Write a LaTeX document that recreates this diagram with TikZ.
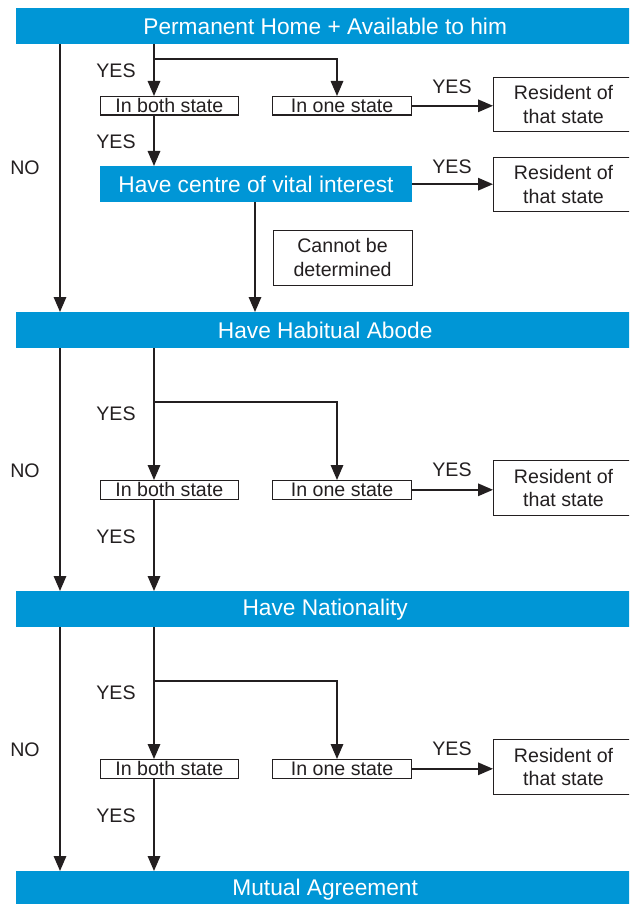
\documentclass[tikz,border=0pt]{standalone}
\usepackage{fontspec}
\setmainfont{Liberation Sans}
\usetikzlibrary{arrows.meta}
\definecolor{barblue}{HTML}{0096D6}
\definecolor{ink}{HTML}{231F20}
\begin{document}
\begin{tikzpicture}[x=1pt,y=-1pt,
  bar/.style={fill=barblue,text=white,minimum width=618pt,minimum height=36pt,inner sep=0pt,
    font=\fontsize{22.7}{26}\selectfont,anchor=north west},
  sbox/.style={draw=ink,line width=1.1pt,fill=white,text=ink,inner sep=0pt,
    font=\fontsize{19.6}{23.3}\selectfont,align=center,anchor=north west},
  cbar/.style={fill=barblue,text=white,inner sep=0pt,font=\fontsize{22.7}{26}\selectfont,anchor=north west},
  lbl/.style={text=ink,font=\fontsize{19.6}{23}\selectfont,inner sep=0pt},
  arr/.style={draw=ink,line width=1.6pt,-{Triangle[length=15pt,width=12.5pt]}},
  ln/.style={draw=ink,line width=1.6pt}]
\useasboundingbox (0,0) rectangle (629,904);
\clip (0,0) rectangle (629,904);

% bars
\node[bar] (top) at (16,8) {Permanent Home + Available to him};
\node[bar] (hab) at (16,312) {Have Habitual Abode};
\node[bar] (nat) at (16,591) {Have Nationality};
\node[bar] (mut) at (16,871) {Mutual Agreement};

% section 1
\node[sbox,minimum width=138.5pt,minimum height=18.5pt] (both1) at (99.5,96) {In both state};
\node[sbox,minimum width=139pt,minimum height=18.5pt] (one1) at (272,96) {In one state};
\node[sbox,minimum width=140pt,minimum height=54pt] (res1) at (493,77) {Resident of\\that state};
\node[cbar,minimum width=312.5pt,minimum height=36pt] (cvi) at (99.5,166) {Have centre of vital interest};
\node[sbox,minimum width=140pt,minimum height=54pt] (res2) at (493,157) {Resident of\\that state};
\node[sbox,minimum width=139pt,minimum height=55pt] (cbd) at (272.5,229.5) {Cannot be\\determined};

% section 2
\node[sbox,minimum width=138.5pt,minimum height=18.5pt] (both2) at (99.5,480) {In both state};
\node[sbox,minimum width=139pt,minimum height=18.5pt] (one2) at (272,480) {In one state};
\node[sbox,minimum width=140pt,minimum height=55pt] (res3) at (493,460) {Resident of\\that state};

% section 3
\node[sbox,minimum width=138.5pt,minimum height=18.5pt] (both3) at (99.5,759) {In both state};
\node[sbox,minimum width=139pt,minimum height=18.5pt] (one3) at (272,759) {In one state};
\node[sbox,minimum width=140pt,minimum height=55pt] (res4) at (493,739) {Resident of\\that state};

% labels
\node[lbl] (y1a) at (116,71) {YES};
\node[lbl] (y1b) at (452,87) {YES};
\node[lbl] (y1c) at (116,142) {YES};
\node[lbl] (n1) at (25,168) {NO};
\node[lbl] (y1d) at (452,167) {YES};

\node[lbl] (y2a) at (116,414) {YES};
\node[lbl] (y2b) at (452,470) {YES};
\node[lbl] (n2) at (25,471) {NO};
\node[lbl] (y2c) at (116,537) {YES};

\node[lbl] (y3a) at (116,693) {YES};
\node[lbl] (y3b) at (452,749) {YES};
\node[lbl] (n3) at (25,750) {NO};
\node[lbl] (y3c) at (116,816) {YES};

% helper coordinates
\coordinate (nox) at (60,0);
\coordinate (bx) at (154,0);
\coordinate (ox) at (337,0);
\coordinate (cx) at (255,0);
\coordinate (j1) at (154,59);
\coordinate (j2) at (154,402);
\coordinate (j3) at (154,681);

% NO lines
\draw[arr] (top.south -| nox) -- (hab.north -| nox);
\draw[arr] (hab.south -| nox) -- (nat.north -| nox);
\draw[arr] (nat.south -| nox) -- (mut.north -| nox);

% section 1 connectors
\draw[arr] (top.south -| bx) -- (both1.north -| bx);
\draw[arr] (j1) -| (one1.north -| ox);
\draw[arr] (one1.east) -- (one1.east -| res1.west);
\draw[arr] (both1.south -| bx) -- (cvi.north -| bx);
\draw[arr] (cvi.east) -- (cvi.east -| res2.west);
\draw[arr] (cvi.south -| cx) -- (hab.north -| cx);

% section 2 connectors
\draw[arr] (hab.south -| bx) -- (both2.north -| bx);
\draw[arr] (j2) -| (one2.north -| ox);
\draw[arr] (one2.east) -- (one2.east -| res3.west);
\draw[arr] (both2.south -| bx) -- (nat.north -| bx);

% section 3 connectors
\draw[arr] (nat.south -| bx) -- (both3.north -| bx);
\draw[arr] (j3) -| (one3.north -| ox);
\draw[arr] (one3.east) -- (one3.east -| res4.west);
\draw[arr] (both3.south -| bx) -- (mut.north -| bx);
\end{tikzpicture}
\end{document}
